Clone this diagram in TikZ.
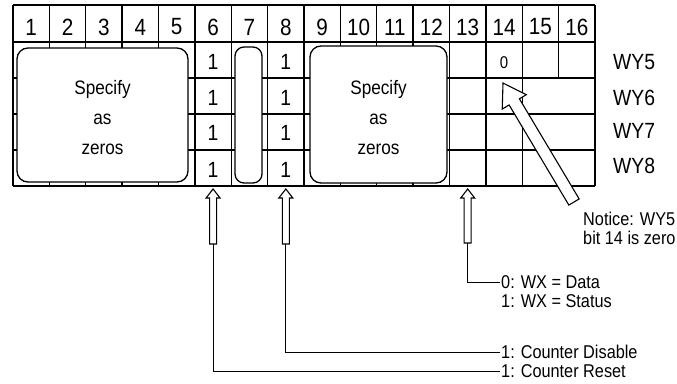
\documentclass[tikz,border=0pt]{standalone}
\usepackage{fontspec}
\setmainfont{Liberation Sans}[FakeStretch=0.88]
\usetikzlibrary{calc}

\def\cw{36.375}
% hollow arrow: tail, tip, head length, half head width, half shaft width
\newcommand\hollowarrow[5]{%
  \coordinate (hb) at ($(#2)!#3pt!(#1)$);
  \draw[arrow line] (#2) -- ($(hb)!#4pt!90:(#1)$) -- ($(hb)!#5pt!90:(#1)$)
    -- ($(#1)!#5pt!-90:(#2)$) -- ($(#1)!#5pt!90:(#2)$)
    -- ($(hb)!#5pt!-90:(#1)$) -- ($(hb)!#4pt!-90:(#1)$) -- cycle;
}

\begin{document}
\begin{tikzpicture}[x=1pt, y=-1pt]
  \tikzset{
    grid line/.style={line width=1.3pt},
    zero box/.style={draw, fill=white, line width=1.3pt},
    arrow line/.style={draw, fill=white, line width=1.1pt, line join=miter},
    leader/.style={line width=0.9pt},
    hdr/.style={font=\fontsize{23.5}{25}\selectfont, inner sep=0pt},
    bit/.style={font=\fontsize{22}{24}\selectfont, inner sep=0pt},
    wy/.style={font=\fontsize{22}{24}\selectfont, anchor=west, inner sep=0pt},
    note/.style={font=\fontsize{18.5}{19}\selectfont, anchor=west, inner sep=1pt, align=left}
  }
  \useasboundingbox (0,0) rectangle (677,383);

  % grid
  \foreach \y in {5,42,78,114,150,186}
    \draw[grid line] (13,\y) -- (595,\y);
  \foreach \i in {0,...,14,16}
    \draw[grid line] ({13+\i*\cw},5) -- ({13+\i*\cw},186);
  \foreach \i in {14,15}
    \draw[grid line] ({13+\i*\cw},5) -- ({13+\i*\cw},78);

  % bits that are zero
  \draw[zero box, rounded corners=11pt] (17,48) rectangle (188,182);
  \draw[zero box, rounded corners=9pt] (235,47) rectangle (262,183);
  \draw[zero box, rounded corners=11pt] (310,46) rectangle (447,183);
  \node[align=center, font=\fontsize{19.5}{30}\selectfont] (spec1) at (102.5,118) {Specify\\as\\zeros};
  \node[align=center, font=\fontsize{19.5}{30}\selectfont] (spec2) at (378.5,118) {Specify\\as\\zeros};

  % bit numbers
  \foreach \i in {1,...,16}
    \node[hdr] (h\i) at ({13+(\i-0.5)*\cw},27) {\i};

  % set bits
  \foreach \r/\y in {1/62,2/98,3/133,4/170} {
    \node[bit] (b6r\r) at ({13+5.5*\cw},\y) {1};
    \node[bit] (b8r\r) at ({13+7.5*\cw},\y) {1};
  }
  \node[font=\fontsize{17}{19}\selectfont, inner sep=0pt] (zero) at ({13+13.5*\cw},63) {0};

  % word names
  \foreach \n/\y in {5/62.5,6/97.5,7/131,8/166}
    \node[wy] (wy\n) at (613,\y) {WY\n};

  % labels
  \node[note, anchor=north west] (notice) at (582,211) {Notice: WY5\\bit 14 is zero};
  \node[note] (data) at (500,282) {0: WX = Data};
  \node[note] (status) at (500,301) {1: WX = Status};
  \node[note] (disable) at (500,352) {1: Counter Disable};
  \node[note] (reset) at (500,371) {1: Counter Reset};

  % arrows
  \coordinate (t6) at ({13+5.5*\cw},244);
  \coordinate (p6) at ({13+5.5*\cw},189);
  \coordinate (t8) at ({13+7.5*\cw},244);
  \coordinate (p8) at ({13+7.5*\cw},189);
  \coordinate (t13) at ({13+12.5*\cw},243);
  \coordinate (p13) at ({13+12.5*\cw},189);
  \coordinate (tn) at (574,202);
  \coordinate (pn) at (503,83);

  \hollowarrow{t6}{p6}{9}{7}{3.5}
  \hollowarrow{t8}{p8}{9}{7}{3.5}
  \hollowarrow{t13}{p13}{9}{7}{3.5}
  \hollowarrow{tn}{pn}{22}{14}{6}

  \draw[leader] (t6) |- (reset.west);
  \draw[leader] (t8) |- (disable.west);
  \draw[leader] (t13) |- (data.west);
\end{tikzpicture}
\end{document}
